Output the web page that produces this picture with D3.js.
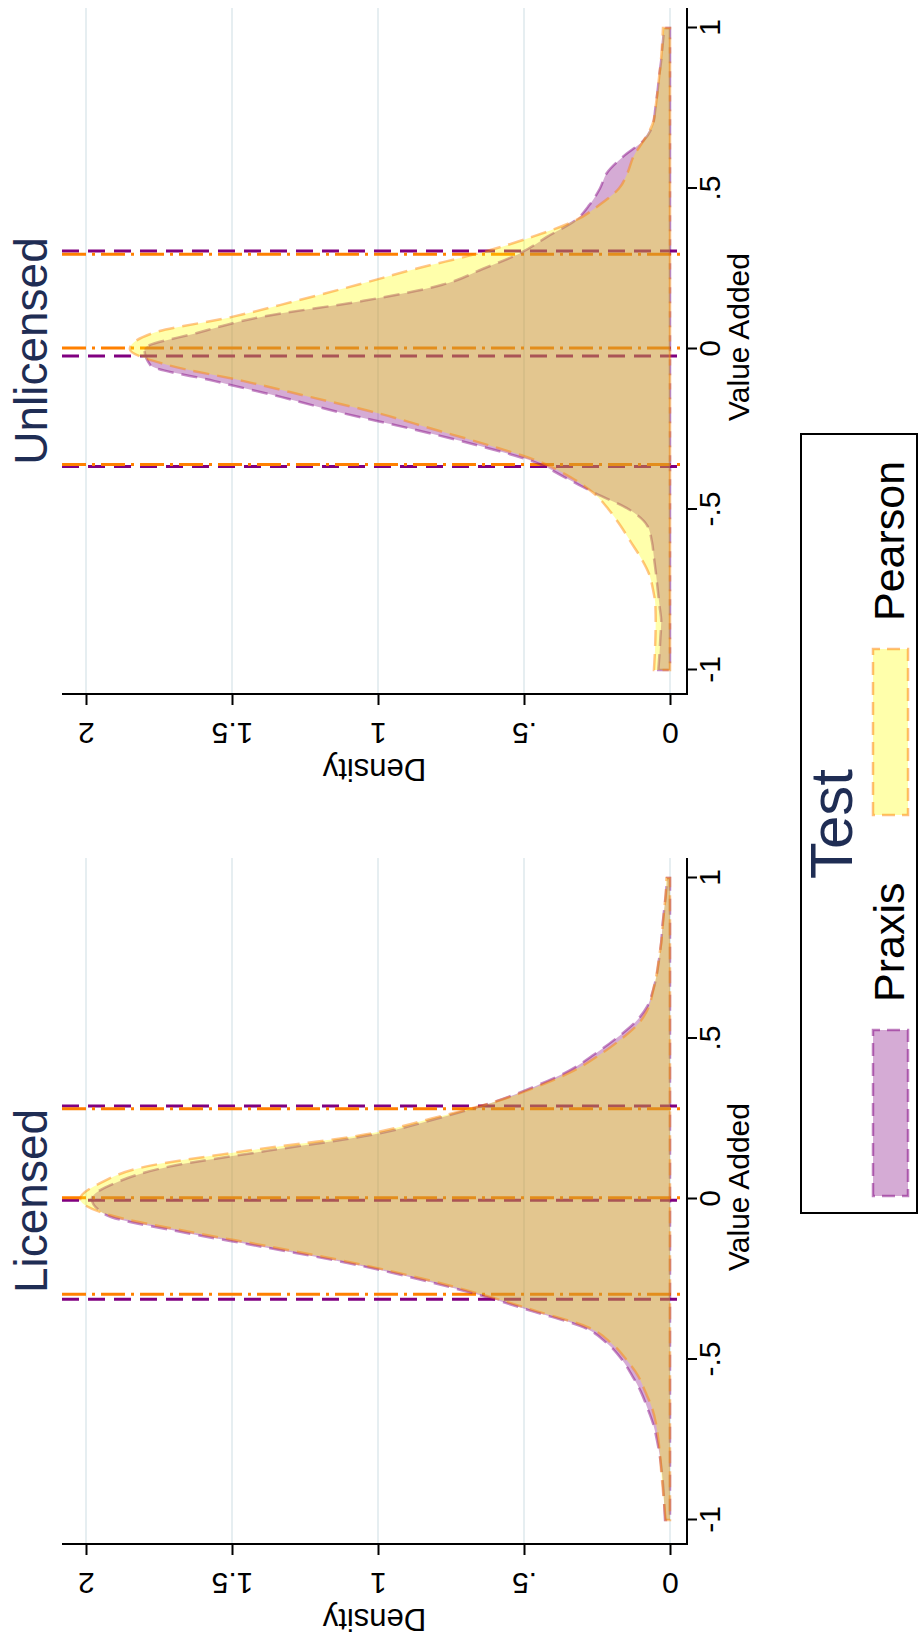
<!DOCTYPE html>
<html>
<head>
<meta charset="utf-8">
<script src="https://cdn.jsdelivr.net/npm/d3@7"></script>
<style>
  body { margin: 0; background: #fff; }
  svg { display: block; }
  text { font-family: "Liberation Sans", Arial, Helvetica, sans-serif; }
</style>
</head>
<body>
<div id="my_dataviz"></div>
<script>
// value added points where the kernel densities were read
const valueAdded = [-1.00, -0.95, -0.90, -0.85, -0.80, -0.75, -0.70, -0.65, -0.60, -0.55,
  -0.50, -0.45, -0.40, -0.35, -0.30, -0.25, -0.20, -0.15, -0.10, -0.05,
  0.00, 0.05, 0.10, 0.15, 0.20, 0.25, 0.30, 0.35, 0.40, 0.45,
  0.50, 0.55, 0.60, 0.65, 0.70, 0.75, 0.80, 0.85, 0.90, 0.95, 1.00];

// densities, Licensed panel
const licPraxis = [0.017, 0.020, 0.023, 0.028, 0.035, 0.045, 0.058, 0.078, 0.100, 0.130,
  0.165, 0.215, 0.295, 0.470, 0.650, 0.860, 1.100, 1.390, 1.690, 1.930,
  1.980, 1.900, 1.720, 1.380, 1.020, 0.800, 0.610, 0.465, 0.345, 0.260,
  0.185, 0.120, 0.078, 0.058, 0.045, 0.037, 0.030, 0.026, 0.020, 0.014, 0.010];
const licPearson = [0.015, 0.020, 0.025, 0.030, 0.034, 0.040, 0.048, 0.062, 0.085, 0.110,
  0.150, 0.200, 0.280, 0.455, 0.635, 0.840, 1.080, 1.360, 1.660, 1.920,
  2.020, 1.950, 1.800, 1.450, 1.050, 0.820, 0.610, 0.455, 0.330, 0.240,
  0.165, 0.105, 0.072, 0.058, 0.046, 0.038, 0.030, 0.025, 0.020, 0.015, 0.012];

// densities, Unlicensed panel
const unlPraxis = [0.040, 0.036, 0.033, 0.030, 0.036, 0.042, 0.048, 0.055, 0.062, 0.078,
  0.140, 0.255, 0.360, 0.470, 0.660, 0.880, 1.120, 1.330, 1.560, 1.780,
  1.800, 1.620, 1.400, 1.050, 0.780, 0.640, 0.510, 0.420, 0.325, 0.275,
  0.240, 0.215, 0.160, 0.090, 0.058, 0.050, 0.043, 0.037, 0.030, 0.025, 0.020];
const unlPearson = [0.055, 0.052, 0.050, 0.049, 0.050, 0.058, 0.072, 0.100, 0.135, 0.170,
  0.210, 0.260, 0.340, 0.450, 0.620, 0.810, 1.000, 1.230, 1.460, 1.720,
  1.850, 1.770, 1.500, 1.280, 1.070, 0.870, 0.647, 0.470, 0.325, 0.240,
  0.175, 0.145, 0.125, 0.090, 0.060, 0.050, 0.043, 0.037, 0.031, 0.027, 0.024];

// reference lines (low, middle, high) per panel and test
const licPraxisLines = [-0.3125, -0.004, 0.290];
const licPearsonLines = [-0.297, 0.004, 0.281];
const unlPraxisLines = [-0.366, -0.022, 0.305];
const unlPearsonLines = [-0.360, 0.003, 0.295];

const panelTitles = ["Licensed", "Unlicensed"];
const testNames = ["Praxis", "Pearson"];
const xTicks = [-1, -0.5, 0, 0.5, 1];
const xTickLabels = ["-1", "-.5", "0", ".5", "1"];
const yTicks = [0, 0.5, 1, 1.5, 2];
const yTickLabels = ["0", ".5", "1", "1.5", "2"];

const panelData = [
  {title: panelTitles[0], curves: [licPraxis, licPearson], lines: [licPraxisLines, licPearsonLines]},
  {title: panelTitles[1], curves: [unlPraxis, unlPearson], lines: [unlPraxisLines, unlPearsonLines]}
];

// Stata graph is landscape (1645 x 918), the page shows it turned a quarter turn
const W = 1645, H = 918;
const navy = "#1f2d54";
const testColor = ["#800080", "#ff8000"];
const testFill = ["#800080", "#ffff00"];
const refDash = ["17,9", "24,6,3,6"];

var svg = d3.select("#my_dataviz")
  .append("svg")
    .attr("width", H)
    .attr("height", W);

var graph = svg.append("g")
  .attr("transform", "translate(0," + W + ") rotate(-90)");

let plot = {top: 62, bottom: 687, width: 686},
  panelLeft = [101, 951];

let y = d3.scaleLinear().domain([0, 2]).range([670, 86]);

panelData.forEach(function(p, i) {
  let left = panelLeft[i], right = left + plot.width;
  let x = d3.scaleLinear().domain([-1, 1]).range([left + 24, right - 20]);
  let g = graph.append("g");

  // grid lines
  g.selectAll(".grid")
    .data(yTicks)
    .enter()
    .append("line")
      .attr("x1", left).attr("x2", right)
      .attr("y1", d => y(d)).attr("y2", d => y(d))
      .style("stroke", "#e6eef1")
      .style("stroke-width", 2);

  // reference lines
  p.lines.forEach(function(vals, t) {
    g.selectAll(".ref" + t)
      .data(vals)
      .enter()
      .append("line")
        .attr("x1", d => x(d)).attr("x2", d => x(d))
        .attr("y1", plot.top).attr("y2", plot.bottom)
        .style("stroke", testColor[t])
        .style("stroke-width", 3)
        .style("stroke-dasharray", refDash[t]);
  });

  // densities, Praxis first then Pearson on top
  p.curves.forEach(function(dens, t) {
    let area = d3.area()
      .x((d, k) => x(valueAdded[k]))
      .y0(y(0))
      .y1(d => y(d))
      .curve(d3.curveMonotoneX);
    g.append("path")
      .datum(dens)
      .attr("d", area)
      .style("fill", testFill[t])
      .style("fill-opacity", 0.33)
      .style("stroke", testColor[t])
      .style("stroke-opacity", 0.45)
      .style("stroke-width", 2.5)
      .style("stroke-dasharray", "16,8");
  });

  // axes
  let xAxis = g.append("g")
    .attr("transform", "translate(0," + plot.bottom + ")")
    .call(d3.axisBottom(x).tickValues(xTicks).tickFormat((d, k) => xTickLabels[k]).tickSize(10));
  xAxis.select(".domain").remove();
  xAxis.selectAll("line").style("stroke", "#000").style("stroke-width", 2);
  xAxis.selectAll("text")
    .attr("y", 33).attr("dy", 0)
    .style("font-size", "30px").style("fill", "#000");

  let yAxis = g.append("g")
    .attr("transform", "translate(" + left + ",0)")
    .call(d3.axisLeft(y).tickValues(yTicks).tickFormat((d, k) => yTickLabels[k]).tickSize(11));
  yAxis.select(".domain").remove();
  yAxis.selectAll("line").style("stroke", "#000").style("stroke-width", 2);
  yAxis.selectAll("text")
    .attr("transform", "rotate(-90)")
    .attr("x", 0).attr("y", -29).attr("dy", 0)
    .attr("text-anchor", "middle")
    .style("font-size", "30px").style("fill", "#000");

  g.append("path")
    .attr("d", "M" + left + "," + plot.top + "V" + plot.bottom + "H" + right)
    .style("fill", "none")
    .style("stroke", "#000")
    .style("stroke-width", 2);

  // axis titles and panel title
  g.append("text")
    .attr("x", x(0) + 12).attr("y", 749)
    .attr("text-anchor", "middle")
    .style("font-size", "30px")
    .text("Value Added");

  g.append("text")
    .attr("transform", "translate(" + (left - 65) + "," + ((plot.top + plot.bottom) / 2) + ") rotate(-90)")
    .attr("text-anchor", "middle")
    .style("font-size", "31px")
    .text("Density");

  g.append("text")
    .attr("x", (left + right) / 2).attr("y", 47)
    .attr("text-anchor", "middle")
    .style("font-size", "46px")
    .style("fill", navy)
    .text(p.title);
});

// legend
let legend = graph.append("g");
legend.append("rect")
  .attr("x", 432).attr("y", 801)
  .attr("width", 779).attr("height", 116)
  .style("fill", "#fff")
  .style("stroke", "#000")
  .style("stroke-width", 2);

legend.append("text")
  .attr("x", 821).attr("y", 852)
  .attr("text-anchor", "middle")
  .style("font-size", "60px")
  .style("fill", navy)
  .text("Test");

let keyX = [449, 830];
testNames.forEach(function(name, t) {
  legend.append("rect")
    .attr("x", keyX[t]).attr("y", 873)
    .attr("width", 166).attr("height", 35)
    .style("fill", testFill[t])
    .style("fill-opacity", 0.33)
    .style("stroke", testColor[t])
    .style("stroke-opacity", 0.5)
    .style("stroke-width", 2.5)
    .style("stroke-dasharray", "13,7");
  legend.append("text")
    .attr("x", keyX[t] + 194).attr("y", 904)
    .style("font-size", "43px")
    .text(name);
});
</script>
</body>
</html>
